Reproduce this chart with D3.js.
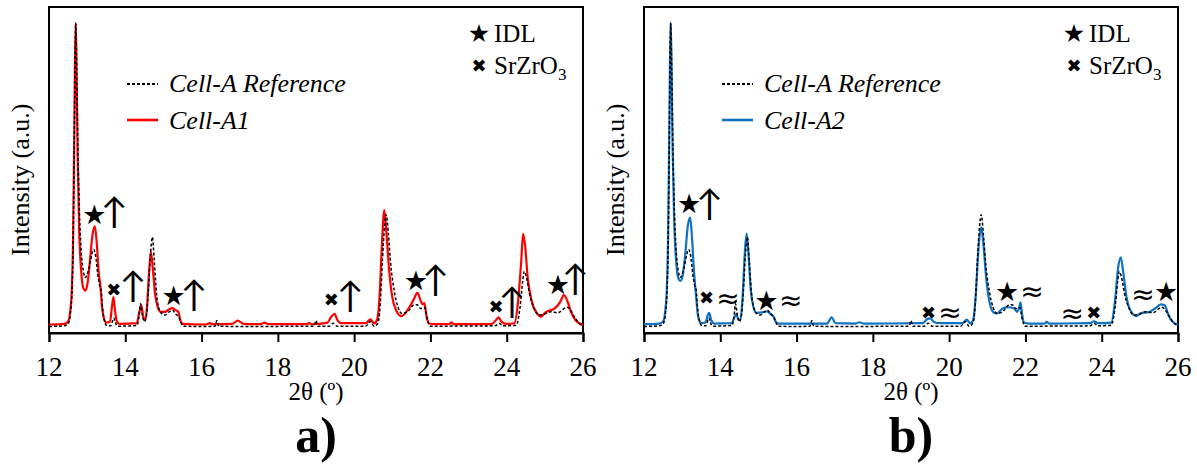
<!DOCTYPE html>
<html>
<head>
<meta charset="utf-8">
<script src="https://cdn.jsdelivr.net/npm/d3@7"></script>
</head>
<body style="margin:0">
<svg id="s" width="1197" height="466"></svg>
<script>
// ---------------- DATA ----------------
// x: 2θ in degrees, y: intensity in % of plot height (arbitrary units)
const xTicks = [12, 14, 16, 18, 20, 22, 24, 26];

const refTheta = [12.00,12.40,12.50,12.56,12.60,12.63,12.66,12.68,12.70,12.72,12.75,12.79,12.84,12.90,12.95,13.00,13.05,13.10,13.17,13.22,13.28,13.33,13.37,13.40,13.45,13.50,13.62,13.66,13.70,13.74,13.80,14.30,14.36,14.40,14.44,14.50,14.55,14.60,14.66,14.71,14.76,14.82,14.88,14.95,15.05,15.15,15.24,15.32,15.40,15.45,15.52,16.00,16.35,16.40,16.45,16.90,18.95,19.00,19.05,19.35,19.45,19.55,20.30,20.43,20.52,20.62,20.68,20.74,20.80,20.84,20.90,20.96,21.05,21.15,21.25,21.40,21.55,21.65,21.75,21.85,21.92,22.00,23.70,23.80,23.90,24.25,24.35,24.42,24.46,24.52,24.60,24.70,24.85,25.00,25.15,25.35,25.50,25.58,25.70,25.80,25.90,26.00];
const refIntensity = [2.0,2.2,2.8,6,12,25,55,80,95,86,62,40,26,19,17,18,20,23,25.6,24,18,14.5,13,8,4,2.4,2.2,3.4,4.6,3.2,2.1,2.3,5,9,6,3.5,5,12,24,29.4,22,12,7.5,6,5.5,6.5,7.0,5.8,5.0,3.5,2.1,2.0,2.1,3.8,2.1,2.0,2.1,3.8,2.1,2.1,3.0,2.1,2.1,3.5,2.1,3,8,22,33,36.3,30,21,13,8,6,6.5,8.5,8.7,7.5,7.8,4,2.1,2.2,3.0,2.2,2.4,8,16,18.9,17,12,8,5.5,5.8,6.5,6.2,7.5,7.9,6.5,4.5,3,2.3];

const a1Theta = [12.00,12.40,12.50,12.56,12.60,12.63,12.66,12.68,12.70,12.72,12.75,12.79,12.85,12.91,12.96,13.02,13.08,13.14,13.20,13.25,13.30,13.35,13.39,13.44,13.50,13.60,13.65,13.69,13.73,13.78,13.85,14.30,14.36,14.42,14.47,14.52,14.57,14.62,14.67,14.72,14.78,14.85,14.93,15.05,15.15,15.24,15.32,15.39,15.44,15.50,16.10,16.22,16.30,16.80,16.95,17.10,17.55,17.65,17.75,18.75,18.82,18.90,19.30,19.40,19.49,19.55,19.65,20.30,20.43,20.52,20.60,20.66,20.72,20.79,20.85,20.92,21.00,21.10,21.24,21.40,21.55,21.66,21.74,21.80,21.84,21.90,21.96,22.10,22.50,22.55,22.60,23.60,23.72,23.79,23.86,24.00,24.20,24.30,24.38,24.43,24.48,24.55,24.65,24.80,24.90,25.00,25.10,25.25,25.40,25.50,25.60,25.70,25.80,25.90,26.00];
const a1Intensity = [2.6,2.8,3.5,7,14,28,58,82,95,82,55,32,18,13.5,13,16,23,30,32.8,28,19,14,8,4.5,3.2,3.5,8,11,7,3.5,2.8,3,6,8.5,5,4,8,18,24.9,20,12,8,6.5,6.5,7.3,7.6,7,6.5,4,2.8,2.6,3.0,2.7,2.8,3.8,2.8,2.7,3.2,2.7,2.7,3.0,2.7,3.2,5,5.9,4.2,3,3,4.2,3,4,10,25,37.7,30,19,11,7,5.2,7,10,12.3,10,8.8,9.2,5,3,2.7,2.7,3.3,2.7,2.7,4,4.8,3.5,2.8,3,10,22,30.4,27,17,10,6,5,6.2,6.8,7.5,9.5,11.6,9.5,6,4,3,2.5];

const a2Theta = [12.00,12.40,12.50,12.56,12.60,12.63,12.66,12.68,12.70,12.72,12.75,12.79,12.85,12.91,12.96,13.02,13.08,13.15,13.21,13.26,13.31,13.36,13.42,13.50,13.62,13.67,13.71,13.76,13.85,14.30,14.36,14.42,14.47,14.52,14.58,14.64,14.69,14.74,14.80,14.87,14.95,15.10,15.22,15.32,15.40,15.45,15.52,16.80,16.92,17.02,17.55,17.65,17.75,19.30,19.42,19.50,19.60,19.75,20.35,20.46,20.55,20.63,20.70,20.77,20.84,20.90,20.97,21.05,21.15,21.25,21.40,21.55,21.70,21.78,21.84,21.87,21.91,21.96,22.10,22.50,22.56,22.62,23.70,23.80,23.90,24.25,24.35,24.43,24.50,24.56,24.65,24.80,24.90,25.05,25.20,25.40,25.55,25.65,25.75,25.85,26.00];
const a2Intensity = [2.7,2.9,3.5,7,14,28,58,82,95.2,83,57,35,21,16.5,16,18,24,33,35.4,29,19,12,5,3,3.3,5.5,6.2,4,2.9,3,4.5,5.8,4.2,4,10,24,30.5,24,13,8,6.2,6.3,6.6,5.8,5,3.5,2.9,2.9,4.8,3.0,2.9,3.3,2.9,3.0,4.2,4.5,3.4,3,3,4.1,3,4,12,26,32.4,27,17,10,6.5,6,7.5,7.9,7.6,6.5,8,9.4,6,3.2,2.9,2.9,3.4,2.9,3,3.6,3,3.2,10,20,23.2,19,11,6,5.2,6.2,6.3,7.5,8.8,8.5,5.5,3.5,2.5];

// annotation symbols placed in data units (2θ, intensity)
const annotA1Sym = ["★","↑","✖","↑","★","↑","✖","↑","★","↑","✖","↑","★","↑"];
const annotA1T   = [13.19,13.71,13.70,14.20,15.27,15.80,19.40,19.90,21.62,22.13,23.72,24.14,25.34,25.80];
const annotA1I   = [36.3,37.5,13.5,14.8,11.5,12.0,10.4,11.8,16.1,16.6,8.2,9.7,14.8,16.8];

const annotA2Sym = ["★","↑","✖","≈","★","≈","✖","≈","★","≈","≈","✖","≈","★"];
const annotA2T   = [13.18,13.72,13.64,14.20,15.21,15.85,19.46,20.02,21.52,22.17,23.23,23.79,25.08,25.69];
const annotA2I   = [39.5,40.0,11.1,10.6,9.7,10.1,6.5,6.3,12.7,13.0,6.1,6.3,11.9,12.7];

// ---------------- DRAWING ----------------
const svg = d3.select("#s");
const SERIF = '"Liberation Serif"';
const SYM = '"DejaVu Sans"';
const ARROW = 'Lato';

function txt(family, size) {
  return svg.append("text")
    .style("font-family", family)
    .style("font-size", size + "px");
}

function drawPanel(opts) {
  const x = d3.scaleLinear().domain([12, 26]).range([opts.left, opts.left + 534]);
  const y = d3.scaleLinear().domain([0, 100]).range([333, 7]);

  // frame
  svg.append("rect")
    .attr("x", x(12)).attr("y", y(100))
    .attr("width", x(26) - x(12)).attr("height", y(0) - y(100))
    .attr("fill", "none").attr("stroke", "#000").attr("stroke-width", 2);

  // x axis: line and ticks from the axis generator, labels as root texts
  const axis = d3.axisBottom(x).tickValues(xTicks).tickSize(9).tickFormat("");
  const ax = svg.append("g").attr("transform", `translate(0,${y(0)})`).call(axis);
  ax.select(".domain").attr("stroke-width", 2);
  ax.selectAll(".tick line").attr("stroke-width", 2);
  ax.selectAll(".tick text").remove();
  xTicks.forEach(v => {
    txt(SERIF, 27).attr("x", x(v)).attr("y", 376).attr("text-anchor", "middle").text(d3.format("d")(v));
  });

  const line = d3.line().curve(d3.curveMonotoneX).x(d => x(d[0])).y(d => y(d[1]));

  // sample line
  svg.append("path")
    .datum(d3.zip(opts.theta, opts.intensity))
    .attr("d", line).attr("fill", "none")
    .attr("stroke", opts.color).attr("stroke-width", 2.2).attr("stroke-linejoin", "round");

  // reference line (dashed)
  svg.append("path")
    .datum(d3.zip(refTheta, refIntensity))
    .attr("d", line).attr("fill", "none")
    .attr("stroke", "#000").attr("stroke-width", 1.5).attr("stroke-dasharray", "3,2");

  // axis titles
  txt(SERIF, 25).attr("x", x(19)).attr("y", 400).attr("text-anchor", "middle").text("2θ (º)");
  txt(SERIF, 26).attr("transform", `translate(${opts.left - 20},${y(47)}) rotate(-90)`)
    .attr("text-anchor", "middle").text("Intensity (a.u.)");
  txt(SERIF, 50).attr("x", x(19)).attr("y", 452).attr("text-anchor", "middle")
    .style("font-weight", "bold").text(opts.label);

  // legend: lines
  const lx = opts.left + 78;
  svg.append("line").attr("x1", lx).attr("x2", lx + 31).attr("y1", 84).attr("y2", 84)
    .attr("stroke", "#000").attr("stroke-width", 2.2).attr("stroke-dasharray", "3,2");
  txt(SERIF, 26).attr("x", lx + 42).attr("y", 92).style("font-style", "italic").text("Cell-A Reference");
  svg.append("line").attr("x1", lx).attr("x2", lx + 31).attr("y1", 120).attr("y2", 120)
    .attr("stroke", opts.color).attr("stroke-width", 2.6);
  txt(SERIF, 26).attr("x", lx + 42).attr("y", 129).style("font-style", "italic").text(opts.name);

  // legend: symbols
  const sx = opts.left + 430;
  txt(SYM, 25).attr("x", sx).attr("y", 42).attr("text-anchor", "middle").text("★");
  txt(SERIF, 25).attr("x", sx + 15).attr("y", 42).text("IDL");
  txt(SYM, 18).attr("x", sx).attr("y", 72).attr("text-anchor", "middle").text("✖");
  const t = txt(SERIF, 25).attr("x", sx + 15).attr("y", 74);
  t.append("tspan").text("SrZrO");
  t.append("tspan").attr("dy", 6).style("font-size", "17px").text("3");

  // annotations
  opts.aSym.forEach((s, i) => {
    let fs, dy, fam = SYM;
    if (s === "★") { fs = 27; dy = 9; }
    else if (s === "✖") { fs = 18; dy = 7; }
    else if (s === "↑") { fs = 36; dy = 13; fam = ARROW; }
    else { fs = 28; dy = 10; }
    txt(fam, fs).attr("x", x(opts.aT[i])).attr("y", y(opts.aI[i]) + dy)
      .attr("text-anchor", "middle").text(s);
  });
}

drawPanel({left: 49, theta: a1Theta, intensity: a1Intensity, color: "#ff0000",
  name: "Cell-A1", label: "a)", aSym: annotA1Sym, aT: annotA1T, aI: annotA1I});
drawPanel({left: 644, theta: a2Theta, intensity: a2Intensity, color: "#0e72c4",
  name: "Cell-A2", label: "b)", aSym: annotA2Sym, aT: annotA2T, aI: annotA2I});
</script>
</body>
</html>
